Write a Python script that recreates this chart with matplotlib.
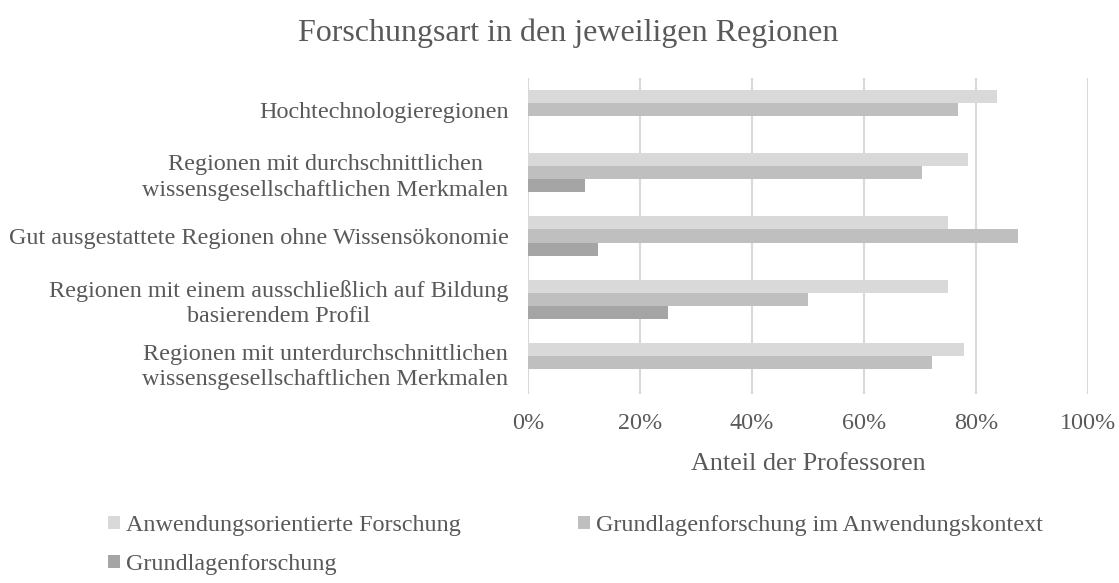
import numpy as np
import matplotlib
matplotlib.use("Agg")
import matplotlib.pyplot as plt
from matplotlib.ticker import PercentFormatter

plt.rcParams['font.family'] = ['Liberation Serif', 'DejaVu Serif']

# Regionen (von oben nach unten)
regionen = [
    "Hochtechnologieregionen",
    "Regionen mit durchschnittlichen\nwissensgesellschaftlichen Merkmalen",
    "Gut ausgestattete Regionen ohne Wissensökonomie",
    "Regionen mit einem ausschließlich auf Bildung\nbasierendem Profil",
    "Regionen mit unterdurchschnittlichen\nwissensgesellschaftlichen Merkmalen",
]
serien = [
    "Anwendungsorientierte Forschung",
    "Grundlagenforschung im Anwendungskontext",
    "Grundlagenforschung",
]
anwendungsorientiert = [83.8, 78.6, 75.0, 75.0, 77.8]
grundlagen_kontext = [76.8, 70.4, 87.5, 50.0, 72.2]
grundlagen = [0.0, 10.2, 12.5, 25.0, 0.0]
farben = ["#D9D9D9", "#BFBFBF", "#A5A5A5"]
text_farbe = "#595959"

fig = plt.figure(figsize=(11.19, 5.83), dpi=100)
ax = fig.add_axes([528 / 1119, 1 - 394 / 583, 560 / 1119, 316 / 583])

y = np.arange(len(regionen))
h = 0.206
handles = []
for i, (werte, farbe) in enumerate(zip([anwendungsorientiert, grundlagen_kontext, grundlagen], farben)):
    b = ax.barh(y + (i - 1) * h, werte, height=h, color=farbe, label=serien[i], zorder=3)
    handles.append(b)

ax.set_xlim(0, 100)
ax.set_ylim(len(regionen) - 0.5, -0.5)
ax.set_xticks(np.arange(0, 101, 20))
ax.xaxis.set_major_formatter(PercentFormatter(decimals=0))
ax.set_yticks(y)
ax.set_yticklabels(regionen, ma='center', linespacing=1.27)
ax.tick_params(axis='y', length=0, pad=14, labelsize=17.4, labelcolor=text_farbe)
ax.tick_params(axis='x', length=0, pad=14, labelsize=17.4, labelcolor=text_farbe)
ax.grid(axis='x', color="#D9D9D9", linewidth=1.5, zorder=0)
for s in ax.spines.values():
    s.set_visible(False)

ax.set_xlabel("Anteil der Professoren", fontsize=18.8, color=text_farbe, labelpad=13)
fig.text(568 / 1119, 1 - 33 / 583, "Forschungsart in den jeweiligen Regionen", ha='center', va='center',
         fontsize=23, color=text_farbe)

# Legende: zwei Spalten, erste Spalte mit zwei Einträgen
leg_kw = dict(loc='upper left', frameon=False, fontsize=17.4, labelcolor=text_farbe,
              handlelength=0.5, handleheight=0.5, handletextpad=0.25, labelspacing=0.75,
              borderaxespad=0, borderpad=0)
fig.legend([handles[0], handles[2]], [serien[0], serien[2]],
           bbox_to_anchor=(108 / 1119, 1 - 515 / 583), **leg_kw)
fig.legend([handles[1]], [serien[1]], bbox_to_anchor=(578 / 1119, 1 - 515 / 583), **leg_kw)

fig.savefig("out.png", dpi=100)
